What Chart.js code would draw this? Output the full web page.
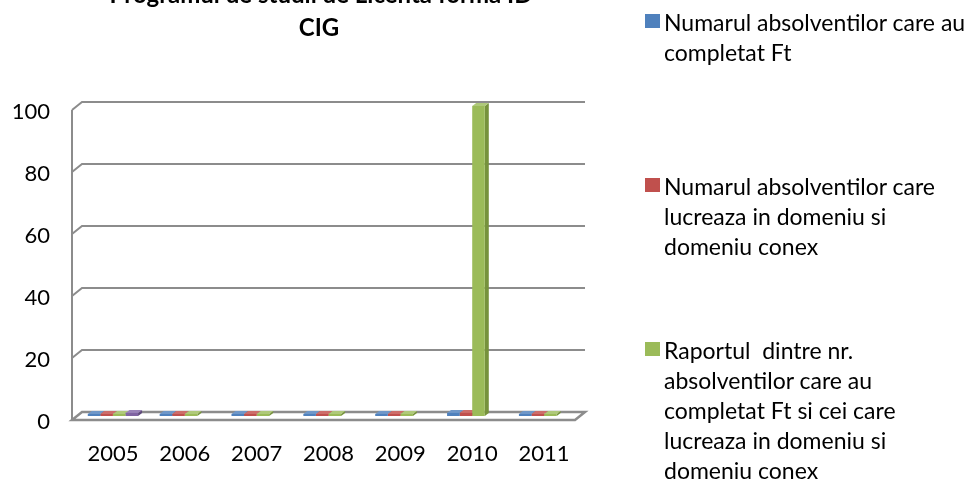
<!DOCTYPE html>
<html>
<head>
<meta charset="utf-8">
<script src="https://cdn.jsdelivr.net/npm/chart.js@4.4.1/dist/chart.umd.min.js"></script>
<style>
  html, body { margin: 0; padding: 0; background: #fff; overflow: hidden; }
  #wrap { position: relative; width: 967px; height: 482px; }
  #chart { position: absolute; left: 0; top: 0; }
  .entry { position: absolute; left: 645px; font-family: Lato, sans-serif; font-size: 23px; line-height: 30px; color: #000; }
  .entry .sq { position: absolute; left: 0; top: 7px; width: 15px; height: 14px; }
  .entry .txt { position: absolute; left: 19px; white-space: pre; }
</style>
</head>
<body>
<div id="wrap">
  <canvas id="chart" width="967" height="482"></canvas>
  <div id="legend"></div>
</div>
<script>
// ---------------- Data ----------------
const years = ["2005", "2006", "2007", "2008", "2009", "2010", "2011"];
const completatFt = [0, 0, 0, 0, 0, 1, 0];
const lucreazaDomeniu = [0, 0, 0, 0, 0, 1, 0];
const raportFt = [0, 0, 0, 0, 0, 100, 0];
const serieaPatru = [1, null, null, null, null, null, null];

const titleLines = ["Programul de studii de Licenta forma ID", "CIG"];
const legendLines = [
    ["Numarul absolventilor care au", "completat Ft"],
    ["Numarul absolventilor care", "lucreaza in domeniu si", "domeniu conex"],
    ["Raportul  dintre nr.", "absolventilor care au", "completat Ft si cei care", "lucreaza in domeniu si", "domeniu conex"]
];

const yTicks = [0, 20, 40, 60, 80, 100];

const fronts = ["#4F81BD", "#C0504D", "#9BBB59", "#8064A2"];
const sides  = ["#3A6494", "#943B39", "#76923C", "#5F4A7C"];
const tops   = ["#6F97C8", "#CD6D6A", "#AFC97A", "#9A83B8"];
const gridColor = "#8C8C8C";

// ---------------- 3D walls / floor ----------------
const depthX = 5, depthY = 4;

const wallsPlugin = {
    id: "walls",
    beforeDatasetsDraw(chart) {
        const ctx = chart.ctx;
        const a = chart.chartArea;
        const y = chart.scales.y;
        ctx.save();
        ctx.strokeStyle = gridColor;
        ctx.lineWidth = 2;

        yTicks.forEach(v => {
            if (v === 0) return;
            const py = y.getPixelForValue(v);
            ctx.beginPath();
            ctx.moveTo(a.left - depthX, py + depthY);
            ctx.lineTo(a.left + depthX, py - depthY);
            ctx.lineTo(a.right + depthX, py - depthY);
            ctx.stroke();
        });

        // side wall front edge
        ctx.beginPath();
        ctx.moveTo(a.left - depthX, y.getPixelForValue(100) + depthY);
        ctx.lineTo(a.left - depthX, a.bottom + depthY);
        ctx.stroke();

        // floor
        ctx.lineWidth = 2.5;
        ctx.beginPath();
        ctx.moveTo(a.left - depthX, a.bottom + depthY);
        ctx.lineTo(a.right - depthX, a.bottom + depthY);
        ctx.lineTo(a.right + depthX, a.bottom - depthY);
        ctx.lineTo(a.left + depthX, a.bottom - depthY);
        ctx.closePath();
        ctx.stroke();

        // bar sides and tops, behind the front faces
        const dw = 4, dh = 3;
        chart.data.datasets.forEach((ds, i) => {
            chart.getDatasetMeta(i).data.forEach((bar, j) => {
                if (ds.data[j] === null) return;
                const p = bar.getProps(["x", "y", "base", "width"], true);
                const l = p.x - p.width / 2, r = p.x + p.width / 2;
                const t = Math.min(p.y, p.base), b = Math.max(p.y, p.base);
                ctx.fillStyle = sides[i];
                ctx.beginPath();
                ctx.moveTo(r, t);
                ctx.lineTo(r + dw, t - dh);
                ctx.lineTo(r + dw, b - dh);
                ctx.lineTo(r, b);
                ctx.closePath();
                ctx.fill();
                ctx.fillStyle = tops[i];
                ctx.beginPath();
                ctx.moveTo(l, t);
                ctx.lineTo(l + dw, t - dh);
                ctx.lineTo(r + dw, t - dh);
                ctx.lineTo(r, t);
                ctx.closePath();
                ctx.fill();
            });
        });
        ctx.restore();
    },
    afterDraw(chart) {
        const ctx = chart.ctx;
        ctx.save();
        ctx.fillStyle = "#000";
        ctx.textAlign = "center";
        ctx.textBaseline = "alphabetic";
        ctx.font = "bold 24px Lato";
        ctx.fillText(titleLines[0], 321, 3);
        ctx.fillText(titleLines[1], 319, 36);
        ctx.restore();
    }
};

// ---------------- Chart ----------------
const seriesValues = [completatFt, lucreazaDomeniu, raportFt, serieaPatru];

new Chart(document.getElementById("chart"), {
    type: "bar",
    data: {
        labels: years,
        datasets: seriesValues.map((vals, i) => ({
            label: i < legendLines.length ? legendLines[i].join(" ") : "Seria 4",
            data: vals,
            backgroundColor: fronts[i],
            borderWidth: 0,
            minBarLength: 2,
            categoryPercentage: 0.7,
            barPercentage: 1.0
        }))
    },
    options: {
        responsive: false,
        animation: false,
        layout: { padding: { top: 106, right: 387, left: 0, bottom: 0 } },
        plugins: {
            legend: { display: false },
            title: { display: false },
            tooltip: { enabled: false }
        },
        scales: {
            x: {
                grid: { display: false },
                border: { display: false },
                ticks: { color: "#000", font: { family: "Lato", size: 22 }, padding: 17, maxRotation: 0 },
                afterFit(scale) { scale.height = 66; }
            },
            y: {
                min: 0,
                max: 100,
                grid: { display: false },
                border: { display: false },
                ticks: { stepSize: 20, color: "#000", font: { family: "Lato", size: 22 }, padding: 19, labelOffset: 6 },
                afterFit(scale) { scale.width = 77; }
            }
        }
    },
    plugins: [wallsPlugin]
});

// ---------------- Legend ----------------
const legendTops = [7, 171, 335];
const legend = document.getElementById("legend");
legendLines.forEach((lines, i) => {
    const entry = document.createElement("div");
    entry.className = "entry";
    entry.style.top = legendTops[i] + "px";
    entry.innerHTML = `<div class="sq" style="background:${fronts[i]}"></div>` +
        `<div class="txt">${lines.join("\n")}</div>`;
    legend.appendChild(entry);
});
</script>
</body>
</html>
